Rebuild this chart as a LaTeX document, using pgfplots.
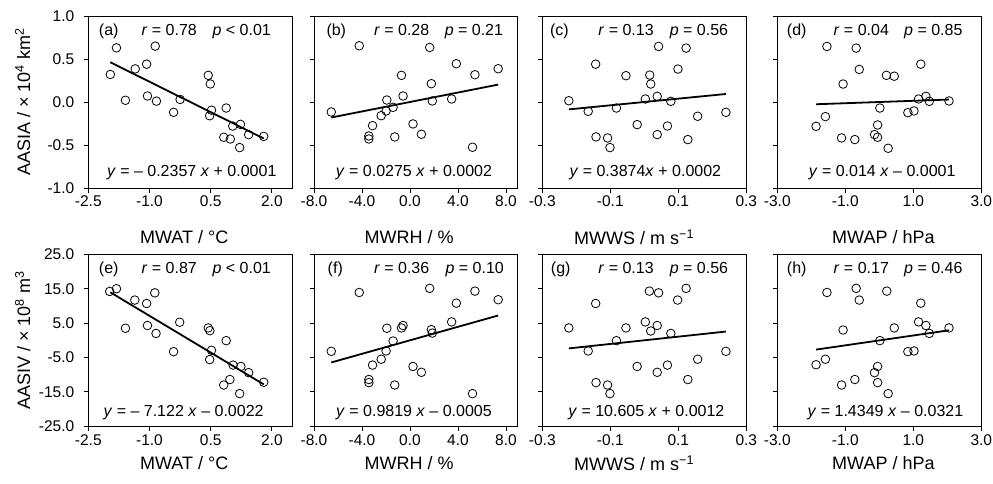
\documentclass[border=0pt]{standalone}
\usepackage{fontspec}
\setmainfont{Liberation Sans}
\usepackage{pgfplots}
\pgfplotsset{compat=1.18}

\newcommand{\fs}{\fontsize{16}{19}\selectfont}

\pgfplotsset{
  panel/.style={
    scale only axis, width=204pt, height=172pt, anchor=north west,
    axis line style={line width=1pt},
    tick align=outside, tick pos=left,
    major tick length=4.5pt,
    every tick/.append style={line width=0.9pt, black},
    tick label style={font=\fontsize{15.5}{18}\selectfont},
    yticklabel style={xshift=-6pt},
    label style={font=\fontsize{18}{21}\selectfont},
    ylabel style={at={(axis description cs:-0.322,0.5)}, anchor=center},
    clip=false,
  },
  pts/.style={only marks, mark=o, mark size=4.3pt, mark options={line width=0.8pt, black}},
  fit/.style={line width=1.8pt, black, no marks},
  toprow/.style={ymin=-1, ymax=1, ytick={-1,-0.5,0,0.5,1},
    xlabel style={at={(axis description cs:#1,-0.285)}, anchor=center}},
  botrow/.style={ymin=-25, ymax=25, ytick={-25,-15,-5,5,15,25},
    xlabel style={at={(axis description cs:#1,-0.215)}, anchor=center}},
  labA/.style={yticklabels={-1.0,-0.5,0.0,0.5,1.0}},
  labV/.style={yticklabels={-25.0,-15.0,-5.0,5.0,15.0,25.0}},
  nolab/.style={yticklabels={}},
  mwat/.style={xmin=-2.5, xmax=2.5, xtick={-2.5,-1,0.5,2}, xticklabels={-2.5,-1.0,0.5,2.0}, xlabel={MWAT / °C}},
  mwrh/.style={xmin=-8, xmax=9, xtick={-8,-4,0,4,8}, xticklabels={-8.0,-4.0,0.0,4.0,8.0}, xlabel={MWRH / \%}},
  mwws/.style={xmin=-0.3, xmax=0.3, xtick={-0.3,-0.1,0.1,0.3}, xticklabels={-0.3,-0.1,0.1,0.3}, xlabel={MWWS / m s\textsuperscript{−1}}},
  mwap/.style={xmin=-3, xmax=3, xtick={-3,-1,1,3}, xticklabels={-3.0,-1.0,1.0,3.0}, xlabel={MWAP / hPa}},
}

\begin{document}
\begin{tikzpicture}
\path[use as bounding box] (0,0) rectangle (993pt,-483pt);

% ---------- top row: AASIA ----------
\begin{axis}[panel, toprow=0.47, labA, mwat, at={(88.3pt,-16pt)},
  ylabel={AASIA / × 10\textsuperscript{4} km\textsuperscript{2}}]
\addplot[pts] table {
-1.96 0.32
-1.81 0.63
-1.59 0.02
-1.35 0.385
-1.07 0.44
-0.86 0.65
-1.05 0.07
-0.83 0.01
-0.41 -0.12
-0.25 0.03
0.44 0.31
0.49 0.21
0.52 -0.095
0.475 -0.16
0.88 -0.07
1.04 -0.28
1.23 -0.26
0.82 -0.41
0.98 -0.43
1.21 -0.53
1.43 -0.38
1.80 -0.40
};
\addplot[fit] coordinates {(-1.96,0.4621) (1.80,-0.4242)};
\node[font=\fs, anchor=base west] at (rel axis cs:0.035,0.886) {(a)};
\node[font=\fs, anchor=base west] at (rel axis cs:0.244,0.886) {\textit{r} = 0.78};
\node[font=\fs, anchor=base east] at (rel axis cs:0.912,0.886) {\textit{p} < 0.01};
\node[font=\fs, anchor=base] at (rel axis cs:0.507,0.064) {\textit{y} = – 0.2357 \textit{x} + 0.0001};
\end{axis}

\begin{axis}[panel, toprow=0.466, nolab, mwrh, at={(314pt,-16pt)}]
\addplot[pts] table {
-6.56 -0.116
-4.23 0.654
1.64 0.634
3.86 0.445
5.41 0.317
7.35 0.387
-0.71 0.31
1.78 0.213
-0.58 0.07
-1.93 0.023
-1.99 -0.104
-1.41 -0.062
-2.40 -0.159
-3.12 -0.275
-3.43 -0.395
-3.43 -0.43
-1.27 -0.406
0.25 -0.255
0.95 -0.375
1.86 0.012
3.47 0.035
5.21 -0.526
};
\addplot[fit] coordinates {(-6.56,-0.1802) (7.35,0.2023)};
\node[font=\fs, anchor=base west] at (rel axis cs:0.044,0.886) {(b)};
\node[font=\fs, anchor=base west] at (rel axis cs:0.277,0.886) {\textit{r} = 0.28};
\node[font=\fs, anchor=base east] at (rel axis cs:0.944,0.886) {\textit{p} = 0.21};
\node[font=\fs, anchor=base] at (rel axis cs:0.49,0.064) {\textit{y} = 0.0275 \textit{x} + 0.0002};
\end{axis}

\begin{axis}[panel, toprow=0.45, nolab, mwws, at={(542.3pt,-16pt)}]
\addplot[pts] table {
-0.222 0.015
-0.165 -0.108
-0.143 0.44
-0.142 -0.406
-0.108 -0.418
-0.101 -0.53
-0.082 -0.07
-0.054 0.306
-0.021 -0.263
0.003 0.035
0.016 0.313
0.019 0.209
0.038 0.066
0.042 0.646
0.038 -0.379
0.068 -0.279
0.078 0.008
0.099 0.383
0.123 0.627
0.128 -0.437
0.157 -0.166
0.240 -0.12
};
\addplot[fit] coordinates {(-0.222,-0.0858) (0.240,0.0932)};
\node[font=\fs, anchor=base west] at (rel axis cs:0.021,0.886) {(c)};
\node[font=\fs, anchor=base west] at (rel axis cs:0.258,0.886) {\textit{r} = 0.13};
\node[font=\fs, anchor=base east] at (rel axis cs:0.928,0.886) {\textit{p} = 0.56};
\node[font=\fs, anchor=base] at (rel axis cs:0.505,0.064) {\textit{y} = 0.3874\textit{x} + 0.0002};
\end{axis}

\begin{axis}[panel, toprow=0.52, nolab, mwap, at={(777.3pt,-16pt)}]
\addplot[pts] table {
-1.86 -0.283
-1.585 -0.17
-1.54 0.646
-1.11 -0.418
-1.065 0.209
-0.72 -0.437
-0.68 0.627
-0.59 0.379
-0.14 -0.379
-0.05 -0.267
-0.05 -0.41
0.016 -0.07
0.21 0.31
0.26 -0.538
0.44 0.30
0.84 -0.124
1.02 -0.104
1.155 0.035
1.22 0.44
1.37 0.066
1.47 0.008
2.05 0.012
};
\addplot[fit] coordinates {(-1.86,-0.0261) (2.05,0.0286)};
\node[font=\fs, anchor=base west] at (rel axis cs:0.03,0.886) {(d)};
\node[font=\fs, anchor=base west] at (rel axis cs:0.259,0.886) {\textit{r} = 0.04};
\node[font=\fs, anchor=base east] at (rel axis cs:0.925,0.886) {\textit{p} = 0.85};
\node[font=\fs, anchor=base] at (rel axis cs:0.514,0.064) {\textit{y} = 0.014 \textit{x} – 0.0001};
\end{axis}

% ---------- bottom row: AASIV ----------
\begin{axis}[panel, botrow=0.47, labV, mwat, at={(88.3pt,-254.3pt)},
  ylabel={AASIV / × 10\textsuperscript{8} m\textsuperscript{3}}]
\addplot[pts] table {
-1.975 14.2
-1.81 15.0
-1.59 3.5
-1.36 11.7
-1.07 10.7
-0.87 13.8
-1.05 4.3
-0.84 2.0
-0.41 -3.3
-0.26 5.25
0.44 3.6
0.48 2.8
0.52 -2.9
0.475 -5.6
0.88 -0.1
1.05 -7.2
1.24 -7.6
0.82 -13.0
0.97 -11.4
1.21 -15.5
1.43 -9.4
1.80 -12.2
};
\addplot[fit] coordinates {(-1.96,13.957) (1.80,-12.822)};
\node[font=\fs, anchor=base west] at (rel axis cs:0.035,0.89) {(e)};
\node[font=\fs, anchor=base west] at (rel axis cs:0.244,0.89) {\textit{r} = 0.87};
\node[font=\fs, anchor=base east] at (rel axis cs:0.912,0.89) {\textit{p} < 0.01};
\node[font=\fs, anchor=base] at (rel axis cs:0.467,0.055) {\textit{y} = – 7.122 \textit{x} – 0.0022};
\end{axis}

\begin{axis}[panel, botrow=0.466, nolab, mwrh, at={(314pt,-254.3pt)}]
\addplot[pts] table {
-6.56 -3.2
-4.23 13.9
1.64 15.1
3.86 10.8
5.41 14.3
7.35 11.8
-0.71 3.6
-0.58 4.3
1.78 3.1
1.86 2.1
-1.93 3.5
-1.99 -3.1
-1.41 -0.2
-2.40 -5.5
-3.12 -7.2
-3.43 -11.4
-3.43 -12.3
-1.27 -13.0
0.25 -7.6
0.95 -9.3
3.47 5.35
5.21 -15.5
};
\addplot[fit] coordinates {(-6.56,-6.442) (7.35,7.216)};
\node[font=\fs, anchor=base west] at (rel axis cs:0.05,0.89) {(f)};
\node[font=\fs, anchor=base west] at (rel axis cs:0.277,0.89) {\textit{r} = 0.36};
\node[font=\fs, anchor=base east] at (rel axis cs:0.948,0.89) {\textit{p} = 0.10};
\node[font=\fs, anchor=base] at (rel axis cs:0.49,0.055) {\textit{y} = 0.9819 \textit{x} – 0.0005};
\end{axis}

\begin{axis}[panel, botrow=0.45, nolab, mwws, at={(542.3pt,-254.3pt)}]
\addplot[pts] table {
-0.222 3.6
-0.165 -3.1
-0.143 10.7
-0.142 -12.3
-0.108 -13.0
-0.101 -15.5
-0.082 -0.1
-0.054 3.6
-0.021 -7.6
0.003 5.35
0.015 14.3
0.019 2.7
0.038 4.3
0.042 13.8
0.038 -9.3
0.068 -7.2
0.078 2.0
0.098 11.7
0.123 15.1
0.128 -11.4
0.157 -5.5
0.240 -3.2
};
\addplot[fit] coordinates {(-0.222,-2.353) (0.240,2.546)};
\node[font=\fs, anchor=base west] at (rel axis cs:0.025,0.89) {(g)};
\node[font=\fs, anchor=base west] at (rel axis cs:0.258,0.89) {\textit{r} = 0.13};
\node[font=\fs, anchor=base east] at (rel axis cs:0.928,0.89) {\textit{p} = 0.56};
\node[font=\fs, anchor=base] at (rel axis cs:0.51,0.055) {\textit{y} = 10.605 \textit{x} + 0.0012};
\end{axis}

\begin{axis}[panel, botrow=0.52, nolab, mwap, at={(777.3pt,-254.3pt)}]
\addplot[pts] table {
-1.86 -7.1
-1.585 -5.5
-1.54 13.9
-1.11 -13.0
-1.065 3.0
-0.72 -11.4
-0.68 15.1
-0.59 11.7
-0.14 -9.4
-0.05 -7.6
-0.05 -12.3
0.016 -0.1
0.22 14.3
0.26 -15.5
0.44 3.6
0.84 -3.3
1.02 -3.1
1.155 5.35
1.22 10.8
1.37 4.3
1.47 2.0
2.05 3.6
};
\addplot[fit] coordinates {(-1.86,-2.701) (2.05,2.909)};
\node[font=\fs, anchor=base west] at (rel axis cs:0.03,0.89) {(h)};
\node[font=\fs, anchor=base west] at (rel axis cs:0.259,0.89) {\textit{r} = 0.17};
\node[font=\fs, anchor=base east] at (rel axis cs:0.925,0.89) {\textit{p} = 0.46};
\node[font=\fs, anchor=base] at (rel axis cs:0.53,0.055) {\textit{y} = 1.4349 \textit{x} – 0.0321};
\end{axis}
\end{tikzpicture}
\end{document}
